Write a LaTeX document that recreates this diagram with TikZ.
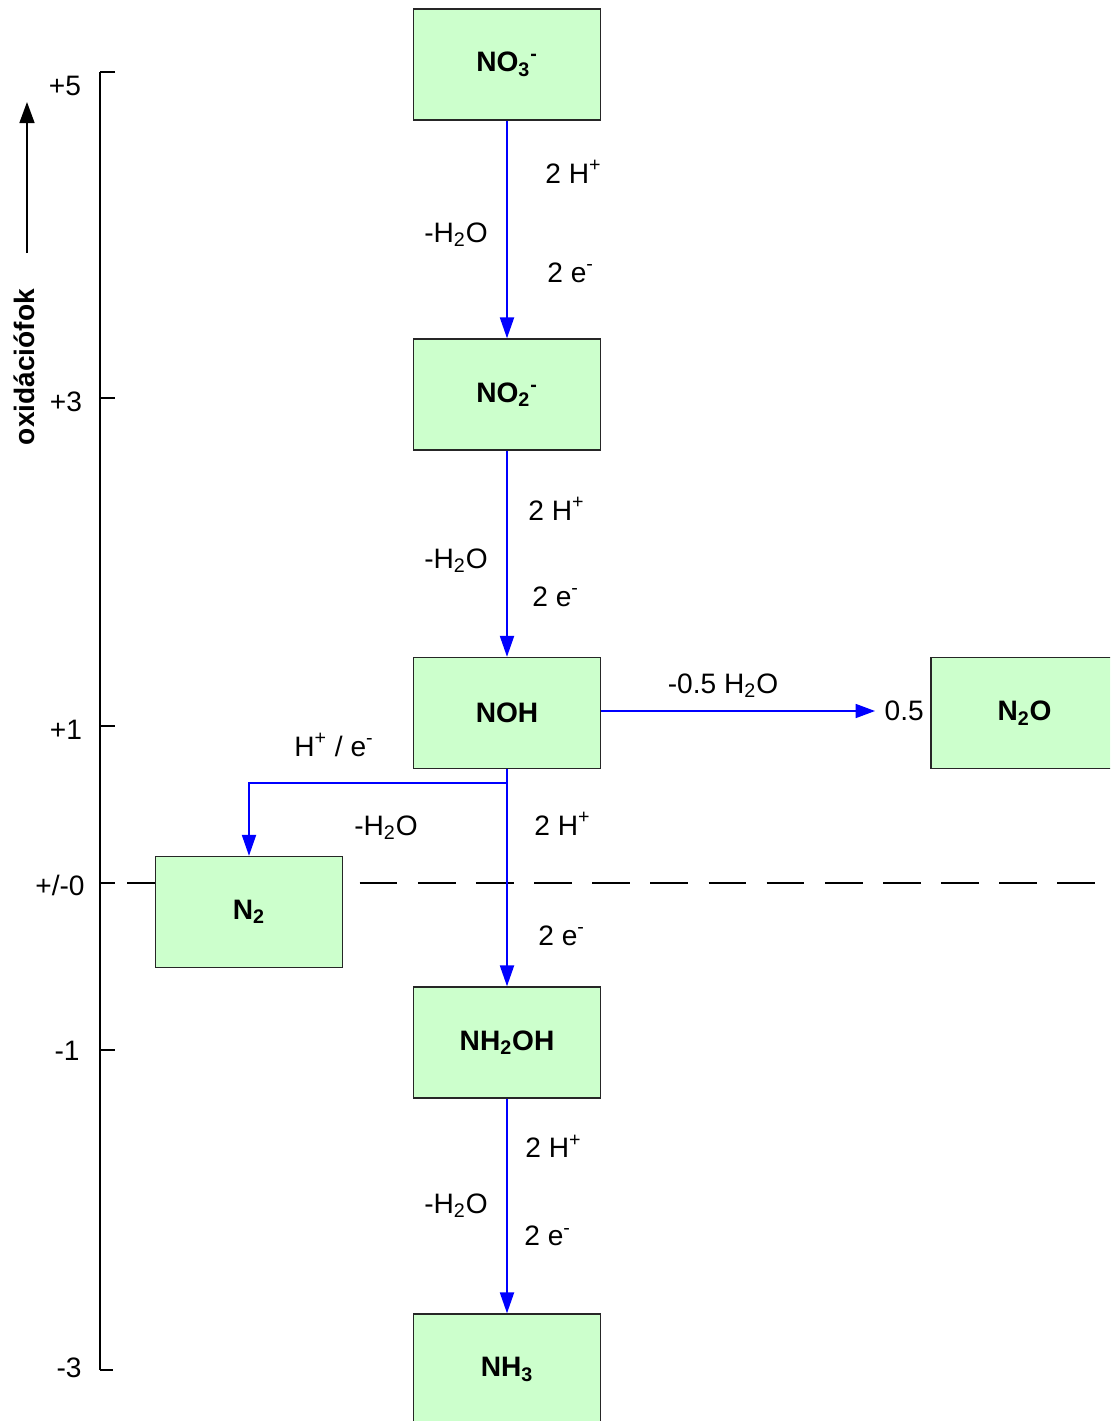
\documentclass[tikz,border=0pt]{standalone}
\usepackage{fontspec}
\setmainfont{Liberation Sans}
\usetikzlibrary{arrows.meta}

\definecolor{boxgreen}{HTML}{CCFFCC}

\begin{document}
\begin{tikzpicture}[x=0.02cm, y=-0.02cm,
  species/.style={draw=black!85, line width=0.75pt, fill=boxgreen,
    minimum width=3.74cm, minimum height=2.22cm, inner sep=0pt, font=\bfseries},
  flow/.style={blue, line width=1.2pt, -{Triangle[length=12pt,width=8pt]}},
  sideflow/.style={blue, line width=0.75pt, -{Triangle[length=11pt,width=8pt]}},
  lbl/.style={inner sep=0pt}]

\fontsize{16}{19}\selectfont
\path [use as bounding box, clip] (0,0) rectangle (1110,1421);

% AXIS
\draw [line width=1.1pt] (100,72) -- (100,1370);
\draw [line width=0.75pt] (115,72) -- (100,72);
\draw [line width=0.75pt] (100,1370) -- (113,1370);
\foreach \y in {398,726,883,1050}
  \draw [line width=0.75pt] (100,\y) -- (115,\y);
\node [lbl, anchor=base] (t5) at (65,95) {+5};
\node [lbl, anchor=base] (t3) at (66,411) {+3};
\node [lbl, anchor=base] (t1) at (66,739) {+1};
\node [lbl, anchor=base] (t0) at (60,895) {+/-0};
\node [lbl, anchor=base] (tm1) at (67,1060) {-1};
\node [lbl, anchor=base] (tm3) at (69,1377) {-3};
\draw [line width=1.1pt, -{Triangle[length=12pt,width=8.5pt]}] (27,253) -- (27,102);
\node [lbl, rotate=90, font=\bfseries] (ox) at (24,367) {oxidációfok};

% ZERO LEVEL
\draw [line width=1.4pt, dash pattern=on 21.5pt off 11.6pt] (127,883) -- (1100,883);

% SPECIES
\node [species] (no3) at (507,64.5) {NO\textsubscript{3}\textsuperscript{-}};
\node [species] (no2) at (507,394.5) {NO\textsubscript{2}\textsuperscript{-}};
\node [species] (noh) at (507,713) {NOH};
\node [species] (n2o) at (1024.5,713) {N\textsubscript{2}O};
\node [species] (n2) at (249,912) {N\textsubscript{2}};
\node [species] (nh2oh) at (507,1042.5) {NH\textsubscript{2}OH};
\node [species] (nh3) at (507,1369.5) {NH\textsubscript{3}};

% REACTIONS
\node [anchor=west] (half) at (875,711) {0.5};
\coordinate (fork) at (507,783);
\draw [flow] (no3) -- (no2);
\draw [flow] (no2) -- (noh);
\draw [flow] (noh) -- (nh2oh);
\draw [flow] (nh2oh) -- (nh3);
\draw [flow] (fork) -| (n2);
\draw [sideflow] (noh.east |- half.west) -- (half.west);

% LABELS
\node [lbl, anchor=base west] (h1) at (545,183) {2 H\textsuperscript{+}};
\node [lbl, anchor=base] (w1) at (456,242) {-H\textsubscript{2}O};
\node [lbl, anchor=base west] (e1) at (547,282) {2 e\textsuperscript{-}};
\node [lbl, anchor=base west] (h2) at (528,520) {2 H\textsuperscript{+}};
\node [lbl, anchor=base] (w2) at (456,568) {-H\textsubscript{2}O};
\node [lbl, anchor=base west] (e2) at (532,606) {2 e\textsuperscript{-}};
\node [lbl, anchor=base] (w5) at (723,693) {-0.5 H\textsubscript{2}O};
\node [lbl, anchor=base] (he) at (334,756) {H\textsuperscript{+} / e\textsuperscript{-}};
\node [lbl, anchor=base] (w3) at (386,835) {-H\textsubscript{2}O};
\node [lbl, anchor=base west] (h3) at (534,835) {2 H\textsuperscript{+}};
\node [lbl, anchor=base west] (e3) at (538,945) {2 e\textsuperscript{-}};
\node [lbl, anchor=base west] (h4) at (525,1157) {2 H\textsuperscript{+}};
\node [lbl, anchor=base] (w4) at (456,1213) {-H\textsubscript{2}O};
\node [lbl, anchor=base west] (e4) at (524,1245) {2 e\textsuperscript{-}};

\end{tikzpicture}
\end{document}
